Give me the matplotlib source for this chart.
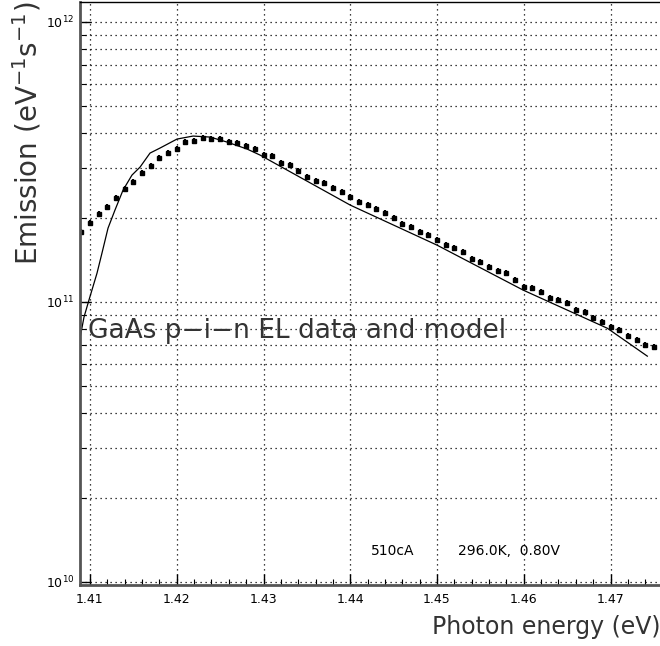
import matplotlib
matplotlib.use("Agg")
import matplotlib.pyplot as plt
import numpy as np
from matplotlib.ticker import FixedLocator, LogLocator, NullFormatter, FormatStrFormatter

# Datos medidos (EL), energía en eV, emisión en unidades de 1e11 eV^-1 s^-1
energia_datos = [1.409 + 0.001 * i for i in range(67)]
emision_datos = [
    1.774, 1.910, 2.056, 2.178, 2.346, 2.526, 2.676, 2.882, 3.052, 3.260,
    3.397, 3.511, 3.719, 3.749, 3.843, 3.812, 3.812, 3.719, 3.688, 3.598,
    3.511, 3.341, 3.314, 3.129, 3.078, 2.930, 2.789, 2.698, 2.654, 2.547,
    2.465, 2.365, 2.270, 2.215, 2.143, 2.074, 1.991, 1.895, 1.848, 1.774,
    1.731, 1.661, 1.594, 1.555, 1.505, 1.421, 1.386, 1.330, 1.287, 1.266,
    1.195, 1.128, 1.119, 1.083, 1.031, 1.014, 0.989, 0.934, 0.919, 0.875,
    0.846, 0.812, 0.792, 0.754, 0.730, 0.700, 0.689,
]

# Curva del modelo
energia_modelo = [1.40885, 1.40931, 1.40988, 1.41081, 1.41138, 1.41208, 1.41288,
                  1.41381, 1.41484, 1.41577, 1.41692, 1.41807, 1.42003, 1.42188,
                  1.42384, 1.42580, 1.42811, 1.42961, 1.43168, 1.44, 1.45,
                  1.45994, 1.46963, 1.47424]
emision_modelo = [0.742, 0.882, 1.014, 1.266, 1.492, 1.833, 2.126, 2.505, 2.835,
                  3.027, 3.397, 3.540, 3.812, 3.907, 3.875, 3.719, 3.511, 3.341,
                  3.078, 2.215, 1.594, 1.101, 0.805, 0.640]

x_ticks = [1.41, 1.42, 1.43, 1.44, 1.45, 1.46, 1.47]

escala = 1e11
y_datos = np.array(emision_datos) * escala
y_modelo = np.array(emision_modelo) * escala

fig = plt.figure(figsize=(6.6, 6.46), dpi=100)
ax = fig.add_axes([80 / 660, 61 / 646, 580 / 660, 583 / 646])

ax.plot(energia_modelo, y_modelo, color="black", linewidth=0.9)
ax.errorbar(energia_datos, y_datos, yerr=y_datos * 0.025, fmt="s", color="black",
            markersize=2.2, elinewidth=1.5, capsize=0)

ax.set_yscale("log")
ax.set_xlim(1.40885, 1.4757)
ax.set_ylim(0.9756e10, 1.176e12)

ax.xaxis.set_major_locator(FixedLocator(x_ticks))
ax.xaxis.set_minor_locator(FixedLocator(np.arange(1.408, 1.476, 0.002)))
ax.xaxis.set_major_formatter(FormatStrFormatter("%.2f"))
ax.yaxis.set_major_locator(LogLocator(base=10, numticks=10))
ax.yaxis.set_minor_locator(LogLocator(base=10, subs=np.arange(2, 10), numticks=10))
ax.yaxis.set_minor_formatter(NullFormatter())

ax.tick_params(which="major", direction="in", length=8, width=1, labelsize=9)
ax.tick_params(which="minor", direction="in", length=4, width=0.8)
ax.tick_params(axis="x", pad=6)
ax.tick_params(axis="y", pad=4)

estilo_grid = dict(linestyle=(0, (1, 3)), color="black", linewidth=0.9)
ax.grid(True, which="major", axis="x", **estilo_grid)
ax.grid(True, which="both", axis="y", **estilo_grid)

ax.spines["left"].set_linewidth(2)
ax.spines["left"].set_color("#555555")
ax.spines["bottom"].set_linewidth(2)
ax.spines["bottom"].set_color("#555555")
ax.spines["top"].set_linewidth(1)
ax.spines["right"].set_visible(False)

ax.set_xlabel("Photon energy (eV)", fontsize=17, loc="right", labelpad=6,
              color="#333333")
ax.set_ylabel("Emission (eV$^{-1}$s$^{-1}$)", fontsize=20, loc="top", labelpad=2,
              color="#333333")

ax.text(1.4098, 0.745e11, "GaAs p−i−n EL data and model", fontsize=19,
        color="#333333")
ax.text(1.4424, 1.25e10, "510cA", fontsize=10)
ax.text(1.4524, 1.25e10, "296.0K,  0.80V", fontsize=10)

plt.savefig("out.png", dpi=100)
